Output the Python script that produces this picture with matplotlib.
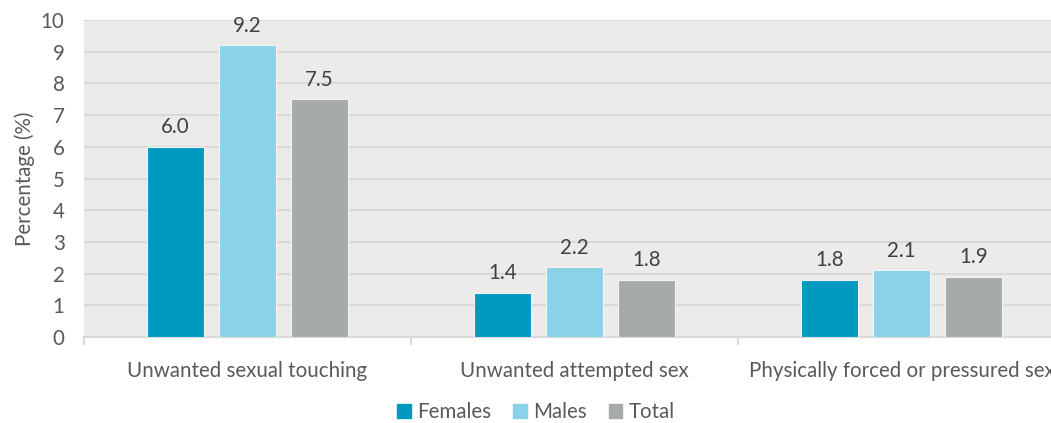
import numpy as np
import matplotlib
matplotlib.use('Agg')
import matplotlib.pyplot as plt
from matplotlib.patches import Patch

categories = ['Unwanted sexual touching', 'Unwanted attempted sex', 'Physically forced or pressured sex']
series_names = ['Females', 'Males', 'Total']
females = [6.0, 1.4, 1.8]
males = [9.2, 2.2, 2.1]
total = [7.5, 1.8, 1.9]
colors = ['#0099C0', '#89D2E8', '#A7AAAB']

plt.rcParams['font.family'] = ['Lato', 'DejaVu Sans']
fs = 14.8

fig = plt.figure(figsize=(10.51, 4.23), dpi=100)
# plot area runs past the right edge, like the original (last label is clipped there too)
ax = fig.add_axes([84 / 1051, 86 / 423, 981 / 1051, 317 / 423])
ax.set_facecolor('#EDEBE9')

x = np.arange(len(categories))
width = 0.175
offset = 0.22
for i, (vals, name) in enumerate(zip([females, males, total], series_names)):
    bars = ax.bar(x + (i - 1) * offset, vals, width, color=colors[i], label=name,
                  edgecolor='#F4F4F4', linewidth=0.8, zorder=3)
    for b, v in zip(bars, vals):
        ax.annotate('%.1f' % v, (b.get_x() + b.get_width() / 2, v),
                    xytext=(0, 7), textcoords='offset points', ha='center', va='bottom',
                    fontsize=fs, color='#404040')

ax.set_xlim(-0.5, 2.5)
ax.set_ylim(0, 10)
ax.set_yticks(range(0, 11))
ax.grid(axis='y', color='#D9D9D9', linewidth=1.5, zorder=0)
ax.set_axisbelow(True)
for s in ['top', 'right', 'left']:
    ax.spines[s].set_visible(False)
ax.spines['bottom'].set_color('#D9D9D9')
ax.spines['bottom'].set_linewidth(1.5)

ax.set_xticks([-0.5, 0.5, 1.5, 2.5])
ax.set_xticklabels([])
ax.set_xticks(x, minor=True)
ax.set_xticklabels(categories, minor=True)
ax.tick_params(axis='x', which='major', length=6, width=1.5, color='#D9D9D9')
ax.tick_params(axis='x', which='minor', length=0, pad=17, labelsize=fs, labelcolor='#595959')
ax.tick_params(axis='y', length=0, pad=14, labelsize=fs, labelcolor='#595959')
ax.set_ylabel('Percentage (%)', fontsize=fs, color='#595959', labelpad=4)

handles = [Patch(color=c) for c in colors]
fig.legend(handles, series_names, loc='center', bbox_to_anchor=(536 / 1051, 1 - 412 / 423),
           ncol=3, frameon=False, fontsize=fs, labelcolor='#595959',
           handlelength=0.65, handleheight=0.65, handletextpad=0.3, columnspacing=1.1)

fig.savefig('out.png', dpi=100)
